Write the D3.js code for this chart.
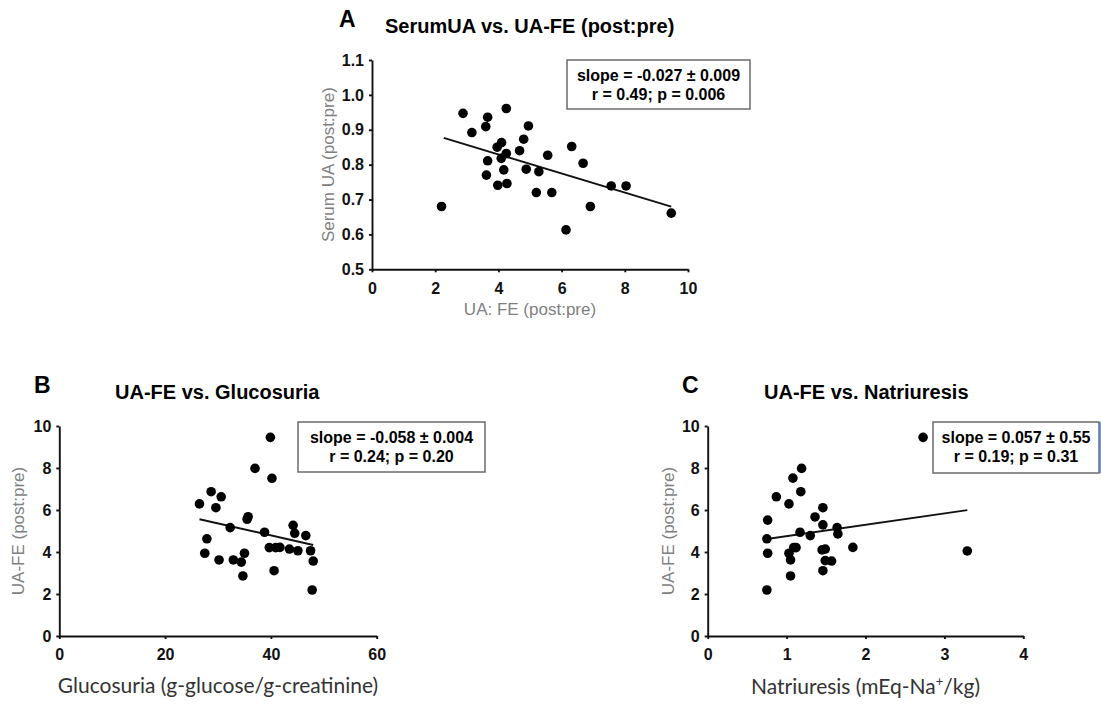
<!DOCTYPE html>
<html><head><meta charset="utf-8">
<script src="https://cdn.jsdelivr.net/npm/d3@7"></script>
<style>
body{margin:0;background:#fff}
svg{display:block;font-family:"Liberation Sans",Arial,sans-serif}
</style></head><body>
<script>
// A: serum UA vs UA fractional excretion (post:pre)
const feA = [2.88,3.16,2.2,3.66,3.60,3.66,3.62,3.98,3.96,4.10,4.09,4.25,4.25,4.17,4.27,4.67,4.80,4.95,4.88,5.28,5.20,5.56,5.69,6.32,6.14,6.68,6.91,7.57,8.04,9.47];
const serumA = [0.947,0.892,0.680,0.936,0.909,0.811,0.770,0.741,0.850,0.863,0.818,0.961,0.832,0.785,0.746,0.840,0.873,0.911,0.787,0.780,0.720,0.827,0.720,0.852,0.613,0.804,0.680,0.739,0.739,0.661];
const fitA = {slope: -0.0274, intercept: 0.939, from: 2.27, to: 9.47};
const statsA = ["slope = -0.027 \u00b1 0.009", "r = 0.49; p = 0.006"];

// B: UA-FE vs glucosuria
const glucB = [26.5,28.7,27.9,27.5,29.6,30.6,30.2,32.3,32.9,34.4,35.0,34.7,35.5,35.7,37.0,39.9,40.2,38.8,39.7,40.6,40.9,41.7,43.5,44.2,44.5,45.1,46.6,47.5,48.0,47.8];
const feB = [6.29,6.87,4.63,3.94,6.11,6.63,3.62,5.16,3.62,3.52,3.94,2.86,5.56,5.68,7.98,9.46,7.51,4.94,4.21,3.11,4.21,4.22,4.14,5.27,4.89,4.06,4.78,4.06,3.57,2.19];
const fitB = {slope: -0.057, intercept: 7.07, from: 26.5, to: 48.0};
const statsB = ["slope = -0.058 \u00b1 0.004", "r = 0.24; p = 0.20"];

// C: UA-FE vs natriuresis
const natC = [0.75,0.76,0.75,0.76,0.87,1.03,1.03,1.05,1.05,1.08,1.09,1.12,1.19,1.18,1.17,1.30,1.36,1.46,1.46,1.45,1.49,1.49,1.57,1.46,1.64,1.65,1.84,2.73,3.29];
const feC = [2.19,3.94,4.63,5.52,6.63,6.29,3.94,3.62,2.86,7.52,4.21,4.21,7.98,6.87,4.94,4.78,5.67,6.11,5.29,4.10,4.14,3.59,3.57,3.11,5.16,4.86,4.22,9.46,4.05];
const fitC = {slope: 0.543, intercept: 4.21, from: 0.75, to: 3.29};
const statsC = ["slope = 0.057 \u00b1 0.55", "r = 0.19; p = 0.31"];

const ticksA = {x: [0, 2, 4, 6, 8, 10], y: [0.5, 0.6, 0.7, 0.8, 0.9, 1.0, 1.1]};
const ticksB = {x: [0, 20, 40, 60], y: [0, 2, 4, 6, 8, 10]};
const ticksC = {x: [0, 1, 2, 3, 4], y: [0, 2, 4, 6, 8, 10]};

const svg = d3.select("body").append("svg")
    .attr("width", 1101)
    .attr("height", 705);

const panels = [
  {letter: "A", title: "SerumUA vs. UA-FE (post:pre)", xs: feA, ys: serumA, fit: fitA, stats: statsA, ticks: ticksA,
   yfmt: d3.format(".1f"), ylabel: "Serum UA (post:pre)", xlabel: "UA: FE (post:pre)",
   xr: [372, 688], yr: [269.3, 60], letterAt: [339, 27], titleAt: [385, 33], ylabX: 334, xlabY: 315,
   box: [567, 60, 183, 49], calibriX: false},
  {letter: "B", title: "UA-FE vs. Glucosuria", xs: glucB, ys: feB, fit: fitB, stats: statsB, ticks: ticksB,
   yfmt: d3.format("d"), ylabel: "UA-FE (post:pre)", xlabel: "Glucosuria (g-glucose/g-creatinine)",
   xr: [59.3, 376.7], yr: [636, 426], letterAt: [34, 393], titleAt: [115, 399], ylabX: 24, xlabY: 693,
   box: [298, 422, 187, 50], calibriX: true},
  {letter: "C", title: "UA-FE vs. Natriuresis", xs: natC, ys: feC, fit: fitC, stats: statsC, ticks: ticksC,
   yfmt: d3.format("d"), ylabel: "UA-FE (post:pre)", xlabel: "Natriuresis (mEq-Na",
   xr: [707.7, 1023.3], yr: [636, 426], letterAt: [682, 393], titleAt: [764, 399], ylabX: 674, xlabY: 694,
   box: [933, 422, 166, 51], calibriX: true, blueEdge: true}
];

panels.forEach(p => {
  const x = d3.scaleLinear(d3.extent(p.ticks.x), p.xr);
  const y = d3.scaleLinear(d3.extent(p.ticks.y), p.yr);
  const g = svg.append("g");

  g.append("text")
      .attr("x", p.letterAt[0]).attr("y", p.letterAt[1])
      .attr("font-size", 23).attr("font-weight", "bold")
      .text(p.letter);
  g.append("text")
      .attr("x", p.titleAt[0]).attr("y", p.titleAt[1])
      .attr("font-size", 20).attr("font-weight", "bold")
      .text(p.title);

  const xAxis = g.append("g")
      .attr("transform", `translate(0,${p.yr[0]})`)
      .call(d3.axisBottom(x).tickValues(p.ticks.x).tickFormat(d3.format("d"))
        .tickSize(3).tickSizeOuter(0).tickPadding(10));
  const yAxis = g.append("g")
      .attr("transform", `translate(${p.xr[0]},0)`)
      .call(d3.axisLeft(y).tickValues(p.ticks.y).tickFormat(p.yfmt)
        .tickSize(3).tickSizeOuter(0).tickPadding(5));
  [xAxis, yAxis].forEach(a => {
    a.selectAll("path, line").attr("stroke", "#111").attr("stroke-width", 1.9);
    a.selectAll("text").attr("font-size", 16).attr("font-weight", "bold")
        .attr("font-family", "'Liberation Sans', Arial, sans-serif").attr("fill", "#111");
  });

  g.append("text")
      .attr("transform", `translate(${p.ylabX},${(p.yr[0] + p.yr[1]) / 2}) rotate(-90)`)
      .attr("text-anchor", "middle")
      .attr("font-size", 17).attr("fill", "#7f7f7f")
      .text(p.ylabel);

  const xl = g.append("text")
      .attr("x", (p.xr[0] + p.xr[1]) / 2).attr("y", p.xlabY)
      .attr("text-anchor", "middle");
  if (p.calibriX) {
    xl.attr("font-family", "Lato, 'Open Sans', sans-serif").attr("font-size", 21).attr("fill", "#333");
  } else {
    xl.attr("font-size", 17).attr("fill", "#7f7f7f");
  }
  xl.append("tspan").text(p.xlabel);
  if (p.letter === "C") {
    xl.append("tspan").attr("font-size", 13).attr("dy", -8).text("+");
    xl.append("tspan").attr("dy", 8).text("/kg)");
  }

  g.append("line")
      .attr("x1", x(p.fit.from)).attr("y1", y(p.fit.intercept + p.fit.slope * p.fit.from))
      .attr("x2", x(p.fit.to)).attr("y2", y(p.fit.intercept + p.fit.slope * p.fit.to))
      .attr("stroke", "#111").attr("stroke-width", 1.9);

  g.append("g")
    .selectAll("circle")
    .data(d3.zip(p.xs, p.ys))
    .join("circle")
      .attr("cx", d => x(d[0]))
      .attr("cy", d => y(d[1]))
      .attr("r", 4.8)
      .attr("fill", "#000");

  const [bx, by, bw, bh] = p.box;
  g.append("rect")
      .attr("x", bx).attr("y", by).attr("width", bw).attr("height", bh)
      .attr("fill", "#fff").attr("stroke", "#6b6b6b").attr("stroke-width", 1.5);
  if (p.blueEdge) {
    g.append("line")
        .attr("x1", bx + bw + 1).attr("x2", bx + bw + 1).attr("y1", by).attr("y2", by + bh)
        .attr("stroke", "#4a7fd4").attr("stroke-width", 1.5);
  }
  g.append("g")
    .selectAll("text")
    .data(p.stats)
    .join("text")
      .attr("x", bx + bw / 2)
      .attr("y", (d, i) => by + 20.5 + i * 19)
      .attr("text-anchor", "middle")
      .attr("font-size", 16).attr("font-weight", "bold")
      .text(d => d);
});
</script>
</body></html>
